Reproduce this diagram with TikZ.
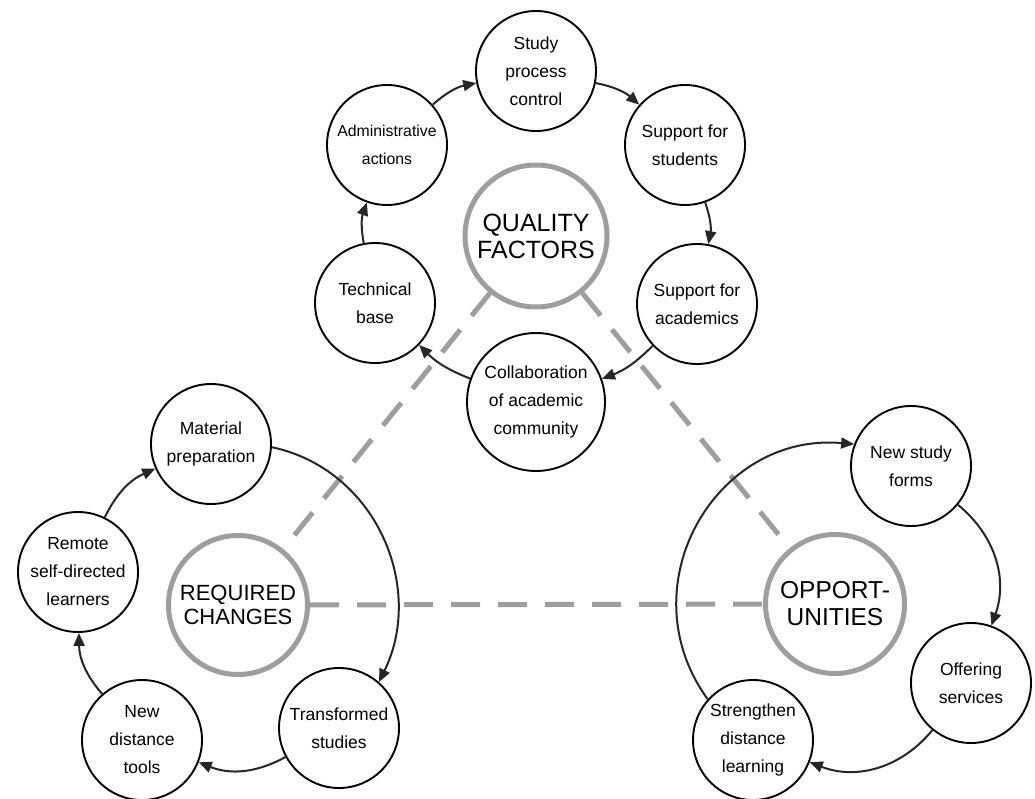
\documentclass[tikz,border=0pt]{standalone}
\usepackage{fontspec}
\setmainfont{Liberation Sans}
\usepackage{tikz}
\usetikzlibrary{arrows.meta}
\definecolor{ringgray}{RGB}{158,158,158}
\definecolor{arrowgray}{RGB}{38,38,38}

\begin{document}
\begin{tikzpicture}[
    x=1pt, y=-1pt,
    factor/.style={circle, draw=black, line width=1.9pt, fill=white, minimum size=120pt, inner sep=0pt, align=center, font=\fontsize{17.5}{28}\selectfont},
    core/.style={circle, draw=ringgray, line width=5pt, fill=white, minimum size=139pt, inner sep=0pt, align=center},
    arrow/.style={-{Triangle[length=13pt, width=11pt]}, line width=2pt, draw=arrowgray},
    link/.style={draw=ringgray, line width=5pt, dash pattern=on 29pt off 18pt}
]
\useasboundingbox (0,0) rectangle (1035,799);

\node[core, minimum size=142pt, font=\fontsize{25}{27}\selectfont] (quality) at (536,236) {QUALITY\\FACTORS};
\node[factor] (study) at (536,71) {Study\\process\\control};
\node[factor] (students) at (685,145) {Support for\\students};
\node[factor] (academics) at (697,304) {Support for\\academics};
\node[factor, minimum size=138pt] (collab) at (536,402) {Collaboration\\of academic\\community};
\node[factor] (technical) at (375,303) {Technical\\base};
\node[factor, font=\fontsize{15.8}{28}\selectfont] (admin) at (387,145) {Administrative\\actions};

\node[core, font=\fontsize{22}{24}\selectfont] (changes) at (238,605) {REQUIRED\\CHANGES};
\node[factor] (material) at (211,444) {Material\\preparation};
\node[factor] (transformed) at (339,728) {Transformed\\studies};
\node[factor] (tools) at (142,740) {New\\distance\\tools};
\node[factor] (remote) at (78,572) {Remote\\self-directed\\learners};

\node[core, font=\fontsize{24.5}{27}\selectfont] (opport) at (835,604) {OPPORT-\\UNITIES};
\node[factor] (forms) at (911,466) {New study\\forms};
\node[factor] (offering) at (971,683) {Offering\\services};
\node[factor] (strengthen) at (753,740) {Strengthen\\distance\\learning};

\draw[link] (quality) -- (changes);
\draw[link] (quality) -- (opport);
\draw[link] (changes) -- (opport);

\draw[arrow] (technical) to[bend left=15] (admin);
\draw[arrow] (admin) to[bend left=15] (study);
\draw[arrow] (study) to[bend left=15] (students);
\draw[arrow] (students) to[bend left=15] (academics);
\draw[arrow] (academics) to[bend left=12] (collab);
\draw[arrow] (collab) to[bend left=12] (technical);

\draw[arrow] (material.-3) to[out=-12, in=64, looseness=1.05] (transformed.49);
\draw[arrow] (transformed) to[bend left=25] (tools);
\draw[arrow] (tools) to[bend left=20] (remote);
\draw[arrow] (remote) to[bend left=20] (material);

\draw[arrow] (strengthen.138) to[out=126, in=175, looseness=1.21] (forms.159);
\draw[arrow] (forms) to[bend left=35] (offering);
\draw[arrow] (offering) to[bend left=36] (strengthen);

\end{tikzpicture}
\end{document}
